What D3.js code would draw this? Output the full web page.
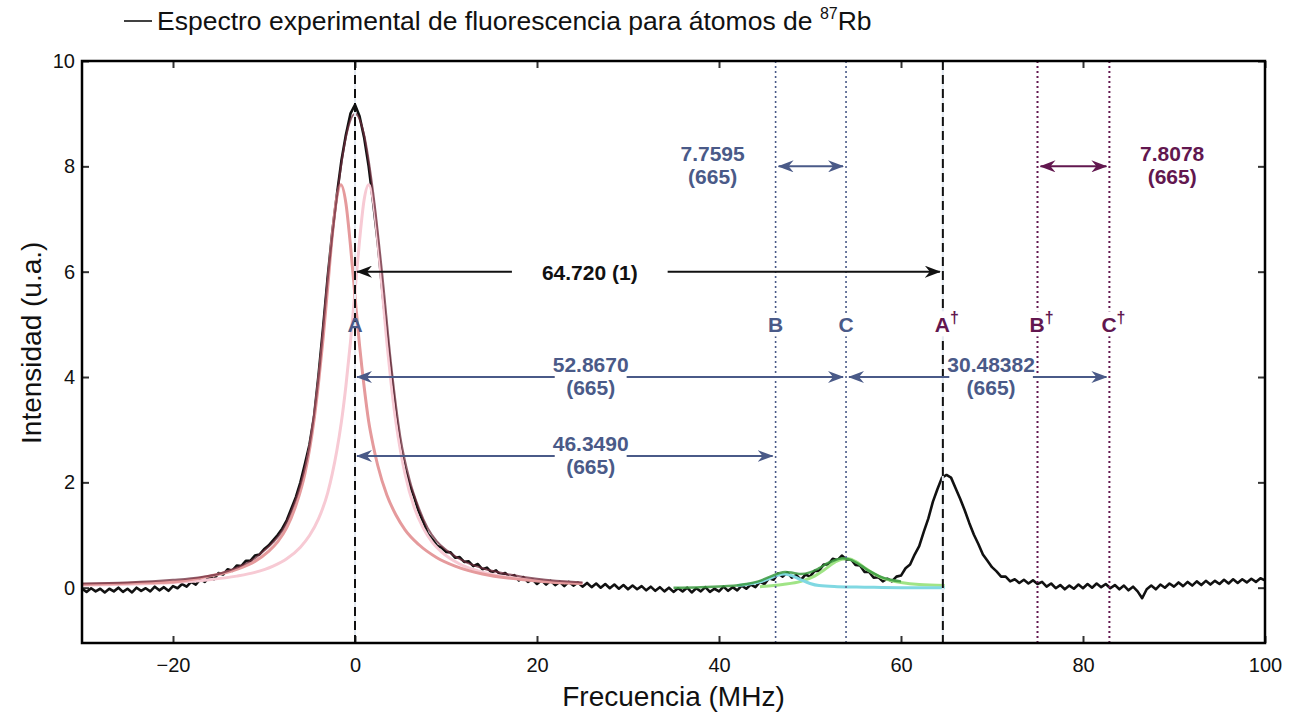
<!DOCTYPE html>
<html>
<head>
<meta charset="utf-8">
<script src="https://cdn.jsdelivr.net/npm/d3@7"></script>
<style>
  body { margin: 0; background: #fff; }
  svg { display: block; font-family: "Liberation Sans", Arial, sans-serif; }
</style>
</head>
<body>
<svg id="chart" width="1292" height="719"></svg>
<script>
// Espectro experimental (MHz, u.a.)
const spectrum = [
  [-30,-0.02],[-29.5,-0.08],[-29,-0.01],[-28.5,-0.07],[-28,-0.02],[-27.5,-0.09],[-27,-0.02],[-26.5,-0.07],[-26,0.0],[-25.5,-0.08],
  [-25,-0.02],[-24.5,-0.09],[-24,0.0],[-23.5,-0.06],[-23,-0.01],[-22.5,-0.07],[-22,0.02],[-21.5,-0.05],[-21,0.01],[-20.5,-0.06],
  [-20,0.03],[-19.5,-0.01],[-19,0.07],[-18.5,0.02],[-18,0.11],[-17.5,0.06],[-17,0.16],[-16.5,0.11],[-16,0.21],[-15.5,0.16],
  [-15,0.28],[-14.5,0.25],[-14,0.35],[-13.5,0.32],[-13,0.42],[-12.5,0.41],[-12,0.51],[-11.5,0.51],[-11,0.61],[-10.5,0.63],
  [-10,0.73],[-9.5,0.8],[-9,0.9],[-8.5,1.0],[-8,1.12],[-7.5,1.28],[-7,1.5],[-6.5,1.72],[-6,2.0],[-5.5,2.35],
  [-5,2.72],[-4.5,3.25],[-4,4.05],[-3.5,4.95],[-3,5.9],[-2.5,6.75],[-2,7.45],[-1.5,8.1],[-1,8.6],[-0.5,9.0],
  [0,9.17],[0.5,8.95],[1,8.55],[1.5,8.0],[2,7.3],[2.5,6.55],[3,5.65],[3.5,4.8],[4,4.0],[4.5,3.25],
  [5,2.65],[5.5,2.25],[6,1.95],[6.5,1.72],[7,1.45],[7.5,1.25],[8,1.02],[8.5,0.92],[9,0.8],[9.5,0.76],
  [10,0.68],[10.5,0.67],[11,0.57],[11.5,0.58],[12,0.49],[12.5,0.5],[13,0.41],[13.5,0.45],[14,0.35],[14.5,0.38],
  [15,0.29],[15.5,0.33],[16,0.24],[16.5,0.28],[17,0.19],[17.5,0.24],[18,0.14],[18.5,0.2],[19,0.11],[19.5,0.16],
  [20,0.07],[20.5,0.14],[21,0.06],[21.5,0.13],[22,0.05],[22.5,0.11],[23,0.03],[23.5,0.11],[24,0.04],[24.5,0.1],
  [25,0.02],[25.5,0.09],[26,0.01],[26.5,0.08],[27,0.0],[27.5,0.07],[28,-0.01],[28.5,0.06],[29,-0.02],[29.5,0.05],
  [30,-0.03],[30.5,0.04],[31,-0.03],[31.5,0.03],[32,-0.05],[32.5,0.02],[33,-0.06],[33.5,0.01],[34,-0.07],[34.5,0.0],
  [35,-0.08],[35.5,-0.01],[36,-0.07],[36.5,0.0],[37,-0.09],[37.5,-0.01],[38,-0.07],[38.5,0.01],[39,-0.08],[39.5,-0.02],
  [40,-0.07],[40.5,0.02],[41,-0.06],[41.5,0.01],[42,-0.05],[42.5,0.04],[43,-0.02],[43.5,0.06],[44,0.01],[44.5,0.11],
  [45,0.07],[45.5,0.18],[46,0.15],[46.5,0.27],[47,0.21],[47.5,0.29],[48,0.19],[48.5,0.24],[49,0.15],[49.5,0.25],
  [50,0.21],[50.5,0.32],[51,0.32],[51.5,0.44],[52,0.44],[52.5,0.55],[53,0.52],[53.5,0.61],[54,0.53],[54.5,0.54],
  [55,0.43],[55.5,0.42],[56,0.3],[56.5,0.3],[57,0.19],[57.5,0.2],[58,0.12],[58.5,0.17],[59,0.12],[59.5,0.21],
  [60,0.23],[60.5,0.37],[61,0.44],[61.5,0.63],[62,0.79],[62.5,1.06],[63,1.31],[63.5,1.63],[64,1.87],[64.5,2.09],
  [65,2.14],[65.5,2.09],[66,1.89],[66.5,1.69],[67,1.47],[67.5,1.23],[68,1.01],[68.5,0.83],[69,0.63],[69.5,0.51],
  [70,0.39],[70.5,0.31],[71,0.21],[71.5,0.21],[72,0.12],[72.5,0.16],[73,0.09],[73.5,0.15],[74,0.08],[74.5,0.14],
  [75,0.07],[75.5,0.11],[76,0.02],[76.5,0.08],[77,-0.01],[77.5,0.05],[78,-0.03],[78.5,0.04],[79,-0.02],[79.5,0.06],
  [80,-0.01],[80.5,0.07],[81,0.0],[81.5,0.08],[82,0.01],[82.5,0.07],[83,-0.01],[83.5,0.05],[84,-0.03],[84.5,0.04],
  [85,-0.05],[85.5,0.02],[86,-0.07],[86.5,-0.2],[87,-0.03],[87.5,0.04],[88,-0.03],[88.5,0.06],[89,0.0],[89.5,0.08],
  [90,0.02],[90.5,0.1],[91,0.03],[91.5,0.11],[92,0.04],[92.5,0.12],[93,0.05],[93.5,0.13],[94,0.06],[94.5,0.13],
  [95,0.07],[95.5,0.15],[96,0.08],[96.5,0.16],[97,0.09],[97.5,0.16],[98,0.1],[98.5,0.17],[99,0.11],[99.5,0.18],
  [100,0.14]
];

// Ajuste del pico principal: componente izquierda (salmon), derecha (rosa) y suma
const fitLeft = [
  [-30,0.06],[-25,0.086],[-20,0.11],[-16,0.22],[-13,0.35],[-11,0.5],[-9.5,0.69],[-8.5,0.87],[-7.5,1.14],[-6.5,1.56],
  [-5.5,2.17],[-4.5,3.19],[-4,3.9],[-3.5,4.74],[-3,5.7],[-2.5,6.68],[-2,7.41],[-1.55,7.65],[-1,7.3],[-0.5,6.5],
  [0,5.53],[0.5,4.6],[1,3.82],[1.5,3.16],[2,2.7],[2.5,2.32],[3.5,1.76],[4.5,1.38],[5.5,1.1],[7,0.82],
  [9,0.57],[11,0.41],[14,0.26],[18,0.16],[22,0.1],[25,0.08]
];
const fitRight = [
  [-30,0.048],[-25,0.067],[-20,0.1],[-16,0.153],[-13,0.22],[-11,0.29],[-9,0.41],[-7.5,0.55],[-6,0.77],[-5,0.99],
  [-4,1.31],[-3,1.8],[-2.5,2.16],[-2,2.6],[-1.5,3.14],[-1,3.83],[-0.5,4.66],[0,5.63],[0.5,6.59],[1,7.36],
  [1.5,7.65],[2,7.36],[2.5,6.59],[3,5.63],[3.5,4.66],[4,3.83],[4.5,3.14],[5,2.6],[5.5,2.16],[6.5,1.53],
  [7.5,1.13],[8.5,0.86],[9.5,0.68],[11.5,0.45],[13.5,0.32],[16.5,0.21],[21.5,0.12],[25,0.085]
];
const fitSum = [
  [-30,0.08],[-25,0.1],[-20,0.15],[-17,0.2],[-15,0.26],[-13,0.38],[-11,0.56],[-10,0.7],[-9,0.86],[-8,1.08],
  [-7,1.45],[-6,1.95],[-5,2.7],[-4,4.0],[-3,5.85],[-2,7.4],[-1,8.55],[0,9.0],[1,8.6],[2,7.5],
  [3,5.95],[4,4.2],[5,2.85],[6,2.05],[7,1.52],[8,1.13],[9,0.88],[10,0.72],[12,0.5],[14,0.37],
  [17,0.25],[20,0.17],[25,0.1]
];

// Ajuste de los picos B y C
const fitB = [
  [42,0.04],[43,0.06],[44.5,0.11],[45.5,0.17],[46.5,0.24],[47.2,0.26],[48,0.23],[49,0.15],[50,0.08],[51,0.04],
  [53,0.02],[56,0.01],[60,0.0],[64.8,0.0]
];
const fitC = [
  [44.5,0.02],[47,0.06],[49,0.12],[50.5,0.22],[51.5,0.33],[52.5,0.46],[53.5,0.54],[54.2,0.55],[55,0.5],[56,0.38],
  [57,0.27],[58,0.18],[59,0.13],[60,0.1],[62,0.06],[64.8,0.04]
];
const fitBC = [
  [35,0.0],[38,0.01],[41,0.03],[43,0.07],[44.5,0.13],[45.5,0.2],[46.5,0.27],[47.3,0.3],[48.2,0.28],[49,0.26],
  [50,0.29],[51,0.37],[52,0.47],[53,0.54],[53.6,0.56],[54.6,0.52],[55.6,0.42],[56.6,0.31],[57.6,0.22],[58.6,0.16],
  [60,0.12]
];

// Lineas de referencia (MHz)
const lineNames = ["A", "B", "C", "A", "B", "C"];
const lineDagger = [false, false, false, true, true, true];
const linePos = [0, 46.22, 53.96, 64.6, 75.0, 82.9];
const lineKind = ["dash", "dotBlue", "dotBlue", "dash", "dotPurple", "dotPurple"];

// Flechas de separacion
const arrowFrom = [0, 0, 0, 2, 1, 4];
const arrowTo = [3, 2, 1, 5, 2, 5];
const arrowY = [6, 4, 2.5, 4, 8, 8];
const arrowText = [["64.720 (1)"], ["52.8670", "(665)"], ["46.3490", "(665)"], ["30.48382", "(665)"], ["7.7595", "(665)"], ["7.8078", "(665)"]];
const arrowTextX = [25.8, 25.9, 25.9, 69.9, 39.3, 89.8];
const arrowColor = ["black", "blue", "blue", "blue", "blue", "purple"];

const xTicks = [-20, 0, 20, 40, 60, 80, 100];
const yTicks = [0, 2, 4, 6, 8, 10];

const colors = {
  black: "#111111", blue: "#4a5a88", purple: "#62174f",
  salmon: "#e59a9c", pink: "#f7cad4", sum: "#6e2c3c",
  green: "#3b9a3f", lightGreen: "#a0e486", cyan: "#80d8e2"
};

const margin = {top: 61, right: 27, bottom: 76, left: 82},
      width = 1292 - margin.left - margin.right,
      height = 719 - margin.top - margin.bottom;

const svg = d3.select("#chart");
const g = svg.append("g").attr("transform", `translate(${margin.left},${margin.top})`);

const x = d3.scaleLinear().domain([-30, 100]).range([0, width]);
const y = d3.scaleLinear().domain([-1.05, 10]).range([height, 0]);

g.append("clipPath").attr("id", "clip")
  .append("rect").attr("width", width).attr("height", height);

// arrow markers
const defs = svg.append("defs");
Object.entries({black: colors.black, blue: colors.blue, purple: colors.purple}).forEach(([k, c]) => {
  defs.append("marker")
    .attr("id", "head-" + k)
    .attr("viewBox", "0 0 16 12")
    .attr("refX", 15).attr("refY", 6)
    .attr("markerUnits", "userSpaceOnUse")
    .attr("markerWidth", 16).attr("markerHeight", 12)
    .attr("orient", "auto-start-reverse")
    .append("path").attr("d", "M0,0 L16,6 L0,12 L5,6 Z").attr("fill", c);
});

// Axes (ticks inward)
const tickStyle = sel => {
  sel.select(".domain").remove();
  sel.selectAll(".tick line").attr("stroke", "#333").attr("stroke-width", 2);
  sel.selectAll(".tick text").attr("font-size", 20).attr("fill", "#111");
};
g.append("g").attr("transform", `translate(0,${height})`)
  .call(d3.axisBottom(x).tickValues(xTicks).tickSize(-7).tickPadding(15).tickFormat(d3.format("d")))
  .call(tickStyle);
g.append("g")
  .call(d3.axisTop(x).tickValues(xTicks).tickSize(-7).tickFormat(""))
  .call(tickStyle);
g.append("g")
  .call(d3.axisLeft(y).tickValues(yTicks).tickSize(-7).tickPadding(7).tickFormat(d3.format("d")))
  .call(tickStyle);
g.append("g").attr("transform", `translate(${width},0)`)
  .call(d3.axisRight(y).tickValues(yTicks).tickSize(-7).tickFormat(""))
  .call(tickStyle);

// Curves
const plot = g.append("g").attr("clip-path", "url(#clip)");
const smooth = d3.line().x(d => x(d[0])).y(d => y(d[1])).curve(d3.curveMonotoneX);
const raw = d3.line().x(d => x(d[0])).y(d => y(d[1]));

plot.append("path").datum(spectrum).attr("d", raw)
  .attr("fill", "none").attr("stroke", colors.black).attr("stroke-width", 2.6).attr("stroke-linejoin", "round");

plot.append("path").datum(fitRight).attr("d", smooth)
  .attr("fill", "none").attr("stroke", colors.pink).attr("stroke-width", 3);
plot.append("path").datum(fitLeft).attr("d", smooth)
  .attr("fill", "none").attr("stroke", colors.salmon).attr("stroke-width", 3);
plot.append("path").datum(fitSum).attr("d", smooth)
  .attr("fill", "none").attr("stroke", colors.sum).attr("stroke-width", 2).attr("stroke-opacity", 0.75);

plot.append("path").datum(fitC).attr("d", smooth)
  .attr("fill", "none").attr("stroke", colors.lightGreen).attr("stroke-width", 3);
plot.append("path").datum(fitB).attr("d", smooth)
  .attr("fill", "none").attr("stroke", colors.cyan).attr("stroke-width", 3);
plot.append("path").datum(fitBC).attr("d", smooth)
  .attr("fill", "none").attr("stroke", colors.green).attr("stroke-width", 2.5).attr("stroke-opacity", 0.85);

// Reference lines
linePos.forEach((p, i) => {
  const kind = lineKind[i];
  if (kind === "dash") {
    g.append("line").attr("x1", x(p)).attr("x2", x(p)).attr("y1", 0).attr("y2", height)
      .attr("stroke", "#e4eaf2").attr("stroke-width", 2);
    g.append("line").attr("x1", x(p)).attr("x2", x(p)).attr("y1", 0).attr("y2", height)
      .attr("stroke", "#111").attr("stroke-width", 2).attr("stroke-dasharray", "9,5");
  } else {
    g.append("line").attr("x1", x(p)).attr("x2", x(p)).attr("y1", 0).attr("y2", height)
      .attr("stroke", kind === "dotBlue" ? colors.blue : colors.purple)
      .attr("stroke-width", kind === "dotBlue" ? 1.6 : 2)
      .attr("stroke-dasharray", "2,3");
  }
});

// Arrows
const annot = g.append("g").attr("font-weight", "bold").attr("font-size", 21);
arrowFrom.forEach((f, i) => {
  const c = colors[arrowColor[i]];
  const ay = y(arrowY[i]);
  const x1 = x(linePos[f]) + (f === 0 ? 2 : 3);
  const x2 = x(linePos[arrowTo[i]]) - 3;
  annot.append("line").attr("x1", x1).attr("x2", x2).attr("y1", ay).attr("y2", ay)
    .attr("stroke", c).attr("stroke-width", 2)
    .attr("marker-start", `url(#head-${arrowColor[i]})`)
    .attr("marker-end", `url(#head-${arrowColor[i]})`);

  const tg = annot.append("g");
  const lines = arrowText[i];
  const tx = x(arrowTextX[i]);
  const texts = lines.length === 1 ? [[lines[0], ay + 8]] : [[lines[0], ay - 5], [lines[1], ay + 18]];
  texts.forEach(([s, ty]) => {
    tg.append("text").attr("text-anchor", "middle").attr("fill", c)
      .attr("x", tx).attr("y", ty).text(s);
  });
  const bb = tg.node().getBBox();
  const pad = lines.length === 1 ? 30 : -2;
  tg.insert("rect", "text")
    .attr("x", bb.x - pad).attr("y", ay - 4).attr("width", bb.width + 2 * pad).attr("height", 8)
    .attr("fill", "white");
});

// Line labels
linePos.forEach((p, i) => {
  const c = i < 3 ? colors.blue : colors.purple;
  const lg = annot.append("g");
  const t = lg.append("text").attr("x", x(p)).attr("y", y(5) + 8)
    .attr("text-anchor", lineDagger[i] ? "start" : "middle").attr("fill", c);
  if (lineDagger[i]) t.attr("dx", -8);
  t.append("tspan").text(lineNames[i]);
  if (lineDagger[i]) {
    t.append("tspan").attr("font-size", 16).attr("dy", -9).text("\u2020");
  }
  if (i > 0) {
    const bb = t.node().getBBox();
    lg.insert("rect", "text").attr("x", bb.x - 2).attr("y", bb.y + 2)
      .attr("width", bb.width + 4).attr("height", bb.height - 2).attr("fill", "white");
  }
});

// Frame
g.append("rect").attr("width", width).attr("height", height)
  .attr("fill", "none").attr("stroke", "#000").attr("stroke-width", 2.5);

// Axis titles
svg.append("text").attr("x", margin.left + x(35)).attr("y", 706)
  .attr("text-anchor", "middle").attr("font-size", 28).attr("fill", "#111")
  .text("Frecuencia (MHz)");
svg.append("text").attr("transform", `translate(41,${margin.top + y(4.65)}) rotate(-90)`)
  .attr("text-anchor", "middle").attr("font-size", 28).attr("fill", "#111")
  .text("Intensidad (u.a.)");

// Legend
svg.append("line").attr("x1", 124).attr("x2", 152).attr("y1", 21).attr("y2", 21)
  .attr("stroke", "#111").attr("stroke-width", 1.6);
const leg = svg.append("text").attr("x", 157).attr("y", 30).attr("font-size", 26.5).attr("fill", "#111");
leg.append("tspan").text("Espectro experimental de fluorescencia para átomos de ");
leg.append("tspan").attr("font-size", 16).attr("dy", -11).text("87");
leg.append("tspan").attr("dy", 11).text("Rb");
</script>
</body>
</html>
